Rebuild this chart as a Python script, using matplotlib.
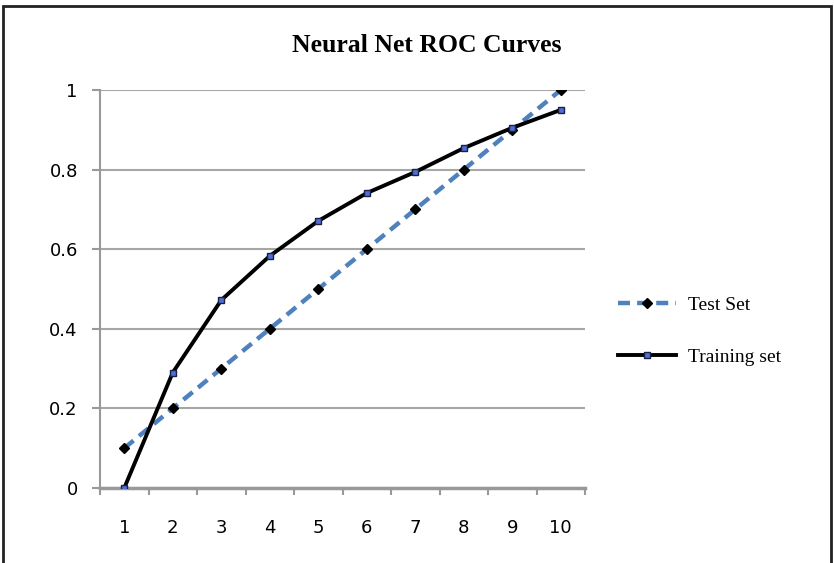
import numpy as np
import matplotlib.pyplot as plt
from matplotlib.patches import Rectangle

# Datos
categorias = ["1", "2", "3", "4", "5", "6", "7", "8", "9", "10"]
test_set = [0.1, 0.2, 0.3, 0.4, 0.5, 0.6, 0.7, 0.8, 0.9, 1.0]
training_set = [0.0, 0.29, 0.472, 0.583, 0.671, 0.741, 0.794, 0.854, 0.905, 0.95]
y_ticks = [0, 0.2, 0.4, 0.6, 0.8, 1]
y_labels = ["0", "0.2", "0.4", "0.6", "0.8", "1"]

fig = plt.figure(figsize=(8.34, 5.63), dpi=100)
ax = fig.add_axes([100/834, 75/563, 485/834, 398/563])

x = np.arange(len(categorias))
ax.plot(x, test_set, color="#4f81bd", lw=3.2, ls=(0, (2.7, 1.6)),
        marker="D", ms=5, mfc="black", mec="black", label="Test Set", zorder=3)
ax.plot(x, training_set, color="black", lw=2.8,
        marker="s", ms=5, mfc="#4f6fd8", mec="#1a2040", mew=1, label="Training set", zorder=4)

ax.set_xlim(-0.5, len(categorias) - 0.5)
ax.set_ylim(0, 1)
ax.set_xticks(x)
ax.set_xticklabels(categorias)
ax.set_xticks(np.arange(-0.5, len(categorias), 1), minor=True)
ax.tick_params(axis="x", which="major", length=0, pad=22, labelsize=13)
ax.tick_params(axis="x", which="minor", length=5, color="#999999", width=1.5)
ax.set_yticks(y_ticks)
ax.set_yticklabels(y_labels)
ax.tick_params(axis="y", length=6, color="#999999", width=1.5, labelsize=13, pad=10)
ax.yaxis.grid(True, color="#a6a6a6", lw=1.5)
ax.set_axisbelow(True)
for lado in ["top", "right"]:
    ax.spines[lado].set_visible(False)
ax.spines["left"].set_color("#999999")
ax.spines["left"].set_linewidth(1.5)
ax.spines["bottom"].set_color("#999999")
ax.spines["bottom"].set_linewidth(2.5)

fig.text(427/834, 1 - 45/563, "Neural Net ROC Curves", ha="center", va="center",
         fontsize=18.5, fontweight="bold", family="Liberation Serif")

leg = fig.legend(loc="center left", bbox_to_anchor=(600/834, 1 - 331/563), frameon=False,
                 prop={"family": "Liberation Serif", "size": 14}, handlelength=3.0,
                 labelspacing=1.75, handletextpad=0.6)

# Marco del gráfico
fig.patches.append(Rectangle((3/834, -0.05), 828/834, 1.05 - 6/563, transform=fig.transFigure,
                             fill=False, edgecolor="#222222", lw=2))

fig.savefig("out.png", dpi=100)
